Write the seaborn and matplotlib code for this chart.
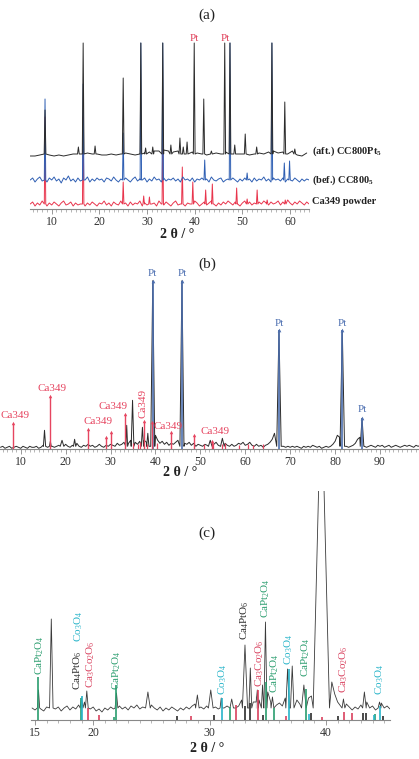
import numpy as np
import pandas as pd
import matplotlib
matplotlib.use("Agg")
import matplotlib.pyplot as plt
import seaborn as sns
from matplotlib.ticker import MultipleLocator, FixedLocator

# ---------------- panel (a): three stacked patterns ----------------
a_black_x0, a_black_step = 5.5, 1.0
a_black_base = [53, 53, 54, 54, 54, 53, 54, 53, 54, 55, 57, 58, 56, 55, 55, 54, 54, 55, 54, 55,
                56, 55, 54, 55, 56, 57, 58, 58, 59, 58, 57, 58, 59, 58, 57, 56, 55, 54, 55, 56,
                55, 57, 58, 57, 55, 57, 54, 55, 56, 55, 57, 58, 56, 57, 55, 58, 54, 53, 56]
a_black_level = 55
a_black_pos = [8.6, 15.6, 16.6, 19.1, 25.0, 28.7, 29.7, 31.2, 33.3, 35.0, 36.9, 37.6, 38.4, 39.9,
               41.9, 43.5, 46.3, 47.4, 48.4, 50.6, 53.0, 56.2, 58.9, 61.0]
a_black_h = [99, 62, 166, 63, 131, 166, 61, 62, 166, 64, 71, 62, 67, 166,
             110, 58, 166, 166, 64, 75, 62, 166, 107, 60]

a_blue_x0, a_blue_step = 5.5, 0.5
a_blue_base = [29, 31, 27, 30, 32, 28, 30, 27, 31, 29, 32, 28, 30, 26, 31, 29, 33, 28, 30, 27,
               31, 28, 30, 29, 32, 27, 30, 28, 31, 29, 30, 27, 31, 30, 28, 32, 29, 27, 30, 28,
               31, 29, 27, 30, 32, 28, 30, 29, 31, 27, 30, 28, 32, 29, 30, 27, 31, 28, 30, 29,
               31, 28, 30, 27, 32, 29, 30, 28, 31, 27, 30, 29, 31, 28, 30, 27, 32, 29, 28, 30,
               31, 27, 29, 30, 28, 31, 29, 27, 30, 28, 31, 29, 30, 27, 31, 28, 30, 29, 32, 28,
               30, 27, 31, 29, 30, 28, 31, 27, 30, 29, 28, 31, 29, 27, 30, 28, 30, 29]
a_blue_level = 29
a_blue_pos = [8.6, 16.6, 25.0, 28.7, 33.3, 42.1, 47.4, 51.0, 56.2, 58.8, 59.9]
a_blue_h = [110, 125, 76, 166, 166, 49, 166, 36, 166, 46, 48]

a_red_x0, a_red_step = 5.5, 0.5
a_red_base = [5, 7, 3, 6, 4, 8, 5, 3, 6, 4, 7, 5, 3, 6, 8, 4, 5, 7, 3, 6,
              4, 5, 8, 3, 6, 4, 7, 5, 3, 6, 5, 8, 4, 6, 3, 7, 5, 4, 8, 5,
              6, 3, 7, 4, 6, 5, 8, 3, 6, 4, 7, 5, 6, 3, 8, 5, 4, 7, 5, 3,
              6, 8, 4, 5, 7, 3, 6, 5, 4, 8, 6, 3, 5, 7, 4, 6, 8, 5, 3, 6,
              4, 7, 5, 8, 6, 4, 7, 5, 3, 6, 8, 5, 7, 4, 6, 9, 7, 5, 8, 6,
              4, 7, 5, 6, 8, 4, 7, 5, 9, 6, 4, 7, 5, 8, 6, 4, 7, 5]
a_red_level = 5
a_red_pos = [8.6, 16.6, 25.0, 29.3, 30.5, 33.3, 37.4, 39.6, 42.3, 43.7, 48.8, 51.0, 53.1, 55.2, 59.0]
a_red_h = [92, 92, 27, 13, 12, 76, 42, 27, 19, 25, 21, 10, 19, 9, 9]

a_labels = [r"(aft.) CC800Pt$_\mathbf{5}$", r"(bef.) CC800$_\mathbf{5}$", "Ca349 powder"]
a_label_y = [58, 29, 7]
a_pt_pos = [39.9, 46.5]

# ---------------- panel (b): pattern after test ----------------
b_x0, b_step = 5.5, 0.5
b_base = [2, 3, 1, 2, 3, 1, 2, 3, 2, 1,
          3, 2, 1, 3, 2, 2, 3, 1, 2, 4,
          3, 2, 5, 3, 2, 3, 4, 6, 8, 5,
          3, 2, 4, 3, 6, 3, 2, 4, 3, 5,
          3, 4, 2, 3, 5, 3, 2, 4, 3, 5,
          4, 3, 6, 4, 5, 7, 8, 6, 9, 10,
          7, 5, 8, 6, 9, 7, 12, 8, 10, 14,
          9, 6, 8, 5, 7, 4, 6, 5, 7, 9,
          12, 9, 6, 5, 7, 4, 6, 3, 5, 4,
          3, 5, 4, 6, 8, 5, 7, 4, 6, 8,
          6, 4, 3, 5, 3, 4, 6, 5, 7, 4,
          5, 7, 4, 3, 5, 3, 4, 2, 4, 5,
          7, 10, 16, 12, 6, 4, 3, 2, 3, 2,
          3, 2, 3, 2, 1, 3, 2, 3, 2, 4,
          3, 2, 3, 1, 2, 3, 2, 3, 5, 8,
          14, 12, 6, 4, 3, 2, 3, 4, 6, 10,
          12, 6, 3, 2, 3, 4, 3, 2, 4, 3,
          4, 2, 3, 4, 2, 3, 4, 3, 2, 3,
          4, 3, 4, 3, 2, 4, 3, 4]
b_level = 3
b_pk_pos = [15.3, 16.6, 19.2, 22.0, 33.6, 34.9, 37.1, 38.3, 39.4, 45.9, 52.2, 54.9, 67.5, 81.6, 86.0]
b_pk_h = [19, 8, 9, 10, 24, 49, 22, 16, 168.6, 168.6, 9, 11, 119, 119, 31]
b_pk_hw = [0.25, 0.2, 0.4, 0.25, 0.2, 0.3, 0.25, 0.25, 0.45, 0.45, 0.4, 0.4, 0.5, 0.5, 0.4]

b_pt_pos = [39.4, 45.9, 67.5, 81.6, 86.0]
b_pt_h = [168.6, 168.6, 119, 119, 31]
b_pt_label_y = [171, 171, 121, 121, 35]

b_ca_pos = [8.35, 16.6, 24.97, 29.1, 30.2, 33.3, 37.4, 39.3, 43.5, 48.6, 52.5]
b_ca_h = [26, 53, 20, 12, 17, 35, 28, 27, 17, 14, 8]
b_ca_small_pos = [35.1, 36.2, 36.6, 38.1, 40.3, 50.9, 52.9, 54.8, 55.5, 58.6, 60.7, 61.8, 64.0]
b_ca_small_h = [6, 5, 7, 5, 6, 5, 6, 5, 6, 4, 5, 4, 5]
b_ca_label_x = [8.73, 16.9, 27.3, 30.5, 42.9, 53.3]
b_ca_label_y = [29, 56, 23, 38.5, 18.5, 13]
b_ca_rot_x, b_ca_rot_y = 37.2, 31

# ---------------- panel (c): zoom 15-45 deg with phase sticks ----------------
c_x0, c_step = 14.75, 0.25
c_base = [12, 10, 14, 11, 9, 13, 15, 14, 11, 13, 9, 12, 14, 10, 13, 11, 15, 20, 18, 16,
          11, 13, 9, 11, 8, 12, 10, 13, 11, 20, 14, 11, 13, 10, 14, 12, 15, 11, 13, 18,
          22, 15, 12, 10, 13, 9, 12, 10, 13, 11, 9, 12, 10, 13, 11, 14, 16, 20, 13, 11,
          14, 22, 20, 13, 11, 16, 12, 14, 17, 15, 12, 14, 20, 60, 40, 35, 18, 24, 20, 26,
          45, 28, 18, 20, 15, 17, 14, 22, 45, 30, 40, 20, 16, 22, 30, 22, 24, 35, 120, 330,
          330, 120, 55, 38, 26, 18, 14, 19, 16, 13, 10, 13, 11, 15, 24, 18, 12, 14, 10, 13,
          17, 12, 14, 11]
c_level = 12
c_pk_pos = [15.3, 16.4, 19.0, 19.45, 22.0, 24.7, 28.95, 30.1, 31.0, 31.9, 33.04, 33.5, 34.1,
            34.55, 34.8, 35.4, 36.7, 37.1, 38.1, 39.6, 41.5, 43.3, 44.6]
c_pk_h = [30, 101, 22, 29, 27, 28, 25, 30, 22, 21, 75, 52, 30, 35, 98, 23, 51, 54, 35, 340, 21, 28, 18]
c_pk_hw = [0.1, 0.15, 0.12, 0.12, 0.12, 0.2, 0.15, 0.2, 0.1, 0.15, 0.22, 0.12, 0.1,
           0.1, 0.13, 0.12, 0.15, 0.15, 0.2, 0.7, 0.12, 0.15, 0.12]

c_green_pos = [15.3, 18.95, 21.75, 22.0, 31.75, 34.85, 35.5, 38.25, 44.2]
c_green_h = [43, 22, 3, 35, 13, 38, 12, 31, 6]
c_cyan_pos = [19.05, 31.05, 36.85, 38.55, 44.1, 44.65]
c_cyan_h = [24, 22, 51, 6, 5, 14]
c_red_pos = [19.55, 20.5, 28.4, 32.3, 34.15, 36.6, 39.7, 41.55, 42.2]
c_red_h = [12, 5, 4, 15, 30, 4, 3, 8, 7]
c_black_pos = [27.2, 30.4, 33.05, 33.45, 34.6, 38.75, 41.0, 43.2, 43.45, 44.9]
c_black_h = [4, 5, 14, 17, 5, 7, 4, 7, 7, 4]

c_lab_text = [r"CaPt$_2$O$_4$", r"Ca$_4$PtO$_6$", r"Co$_3$O$_4$", r"Ca$_3$Co$_2$O$_6$",
              r"CaPt$_2$O$_4$", r"Co$_3$O$_4$", r"Ca$_4$PtO$_6$", r"Ca$_3$Co$_2$O$_6$",
              r"CaPt$_2$O$_4$", r"CaPt$_2$O$_4$", r"Co$_3$O$_4$", r"CaPt$_2$O$_4$",
              r"Ca$_3$Co$_2$O$_6$", r"Co$_3$O$_4$"]
c_lab_x = [15.37, 18.63, 18.78, 19.79, 22.02, 31.13, 32.98, 34.33, 34.82, 35.62, 36.76, 38.28, 41.49, 44.64]
c_lab_y = [45, 30, 78, 32, 30, 25, 80, 33, 102, 27, 55, 43, 27, 25]
c_lab_phase = ["g", "k", "c", "r", "g", "c", "k", "r", "g", "g", "c", "g", "r", "c"]

GREEN, CYAN, RED, DARK = "#2a9d6e", "#27b4c9", "#d9415e", "#2b2b2b"
PHASE_COLORS = {"g": GREEN, "c": CYAN, "r": RED, "k": DARK}

W, H = 419, 759


def rect(l, t, r, b):
    return [l / W, 1 - b / H, (r - l) / W, (b - t) / H]


def build_trace(x0, step, base, level, pos, height, hw):
    bx = x0 + step * np.arange(len(base))
    by = np.asarray(base, float)
    pos = np.asarray(pos, float)
    height = np.asarray(height, float)
    hw = np.broadcast_to(np.asarray(hw, float), pos.shape)
    near = (np.abs(bx[:, None] - pos[None, :]) <= hw[None, :]).any(axis=1)
    xs = np.concatenate([bx[~near], pos - hw, pos, pos + hw])
    ys = np.concatenate([by[~near], np.full(len(pos), level), height, np.full(len(pos), level)])
    order = np.argsort(xs, kind="stable")
    return pd.DataFrame({"x": xs[order], "y": ys[order]})


def style_axis(ax, xlim, ylim, major, minor=1):
    ax.set_xlim(*xlim)
    ax.set_ylim(*ylim)
    ax.set_yticks([])
    ax.set_xlabel("")
    ax.set_ylabel("")
    sns.despine(ax=ax, left=True)
    ax.spines["bottom"].set_color("#888888")
    ax.spines["bottom"].set_linewidth(0.8)
    ax.xaxis.set_major_locator(FixedLocator(major))
    ax.xaxis.set_minor_locator(MultipleLocator(minor))
    ax.tick_params(axis="x", which="major", direction="out", length=3.5, width=0.6,
                   color="#888888", labelsize=8.5, labelcolor="#333333", pad=1.5)
    ax.tick_params(axis="x", which="minor", direction="out", length=2, width=0.5, color="#999999")
    ax.patch.set_alpha(0)


sns.set_theme(style="ticks")
plt.rcParams["font.family"] = ["Liberation Serif", "DejaVu Serif"]
plt.rcParams["mathtext.fontset"] = "custom"
plt.rcParams["mathtext.rm"] = "Liberation Serif"
plt.rcParams["mathtext.it"] = "Liberation Serif:italic"
plt.rcParams["mathtext.bf"] = "Liberation Serif:bold"

fig = plt.figure(figsize=(W / 100, H / 100), dpi=100)
fig.patch.set_facecolor("white")

# ---- (a)
ax_a = fig.add_axes(rect(30.25, 40, 309.1, 209))
tr_red = build_trace(a_red_x0, a_red_step, a_red_base, a_red_level, a_red_pos, a_red_h, 0.15)
tr_blue = build_trace(a_blue_x0, a_blue_step, a_blue_base, a_blue_level, a_blue_pos, a_blue_h, 0.15)
tr_black = build_trace(a_black_x0, a_black_step, a_black_base, a_black_level, a_black_pos, a_black_h, 0.18)
sns.lineplot(data=tr_red, x="x", y="y", ax=ax_a, color="#e8354d", lw=0.7, sort=False)
sns.lineplot(data=tr_blue, x="x", y="y", ax=ax_a, color="#2f5fb3", lw=0.7, sort=False)
sns.lineplot(data=tr_black, x="x", y="y", ax=ax_a, color=DARK, lw=0.7, sort=False)
style_axis(ax_a, (5.5, 64), (0, 169), [10, 20, 30, 40, 50, 60])
for txt, yy in zip(a_labels, a_label_y):
    ax_a.text(64.6, yy, txt, fontsize=7.5, fontweight="bold", color="#222222",
              ha="left", va="center", clip_on=False)
for p in a_pt_pos:
    ax_a.text(p, 166, "Pt", fontsize=8, color="#e0405a", ha="center", va="bottom", clip_on=False)

# ---- (b)
ax_b = fig.add_axes(rect(0, 274.3, 419, 449.3))
tr_b = build_trace(b_x0, b_step, b_base, b_level, b_pk_pos, b_pk_h, b_pk_hw)
sns.lineplot(data=tr_b, x="x", y="y", ax=ax_b, color=DARK, lw=0.7, sort=False, zorder=2)
ax_b.vlines(b_pt_pos, 0, b_pt_h, color="#4d6fae", lw=1.2, zorder=3)
ax_b.scatter(b_pt_pos, b_pt_h, marker="^", s=7, color="#4d6fae", zorder=4, linewidths=0)
ax_b.vlines(b_ca_pos, 0, b_ca_h, color="#e64560", lw=1.0, zorder=3)
ax_b.scatter(b_ca_pos, b_ca_h, marker="^", s=6, color="#e64560", zorder=4, linewidths=0)
ax_b.vlines(b_ca_small_pos, 0, b_ca_small_h, color="#e64560", lw=0.9, zorder=3)
style_axis(ax_b, (5.39, 98.68), (0, 175), [10, 20, 30, 40, 50, 60, 70, 80, 90])
for p, yy in zip(b_pt_pos, b_pt_label_y):
    ax_b.text(p, yy, "Pt", fontsize=8, color="#4a6db0", ha="center", va="bottom", clip_on=False)
for xx, yy in zip(b_ca_label_x, b_ca_label_y):
    ax_b.text(xx, yy, "Ca349", fontsize=8, color="#e64560", ha="center", va="bottom", clip_on=False)
ax_b.text(b_ca_rot_x, b_ca_rot_y, "Ca349", fontsize=8, color="#e64560", rotation=90,
          ha="center", va="bottom", clip_on=False)

# ---- (c)
ax_c = fig.add_axes(rect(30.7, 491, 390, 720))
tr_c = build_trace(c_x0, c_step, c_base, c_level, c_pk_pos, c_pk_h, c_pk_hw)
sns.lineplot(data=tr_c, x="x", y="y", ax=ax_c, color="#3a3a3a", lw=0.6, sort=False, zorder=2)
for pos_, h_, col in [(c_black_pos, c_black_h, DARK), (c_red_pos, c_red_h, RED),
                      (c_green_pos, c_green_h, GREEN), (c_cyan_pos, c_cyan_h, CYAN)]:
    ax_c.vlines(pos_, 0, h_, color=col, lw=1.2, zorder=3)
style_axis(ax_c, (14.63, 45.5), (0, 229), [15, 20, 30, 40])
for t, xx, yy, ph in zip(c_lab_text, c_lab_x, c_lab_y, c_lab_phase):
    ax_c.text(xx, yy, t, fontsize=8, color=PHASE_COLORS[ph], rotation=90,
              ha="center", va="bottom", clip_on=False)

# ---- titles and axis labels
for lab, px, py in [("(a)", 207, 15), ("(b)", 207, 264), ("(c)", 207, 533)]:
    fig.text(px / W, 1 - py / H, lab, ha="center", va="center", fontsize=11, color="#222222")
for px, py in [(177, 234), (180, 473), (207, 749)]:
    fig.text(px / W, 1 - py / H, "2 θ / °", ha="center", va="center", fontsize=10,
             fontweight="bold", color="#222222")

fig.savefig("out.png", dpi=100, facecolor="white")
